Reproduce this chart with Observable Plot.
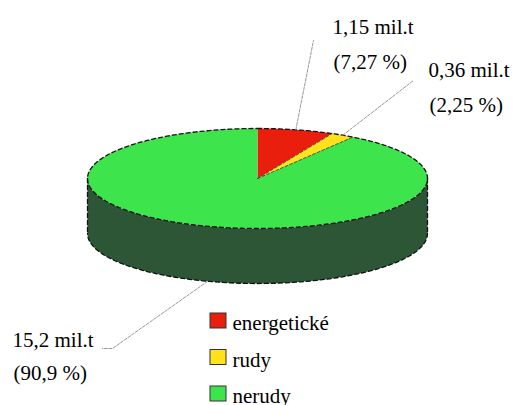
<!DOCTYPE html>
<html>
<head>
<meta charset="utf-8">
<script src="https://cdn.jsdelivr.net/npm/d3@7"></script>
<script src="https://cdn.jsdelivr.net/npm/@observablehq/plot@0.6"></script>
</head>
<body style="margin:0">
<script>
// ---- data ----
const categories = ["energetické", "rudy", "nerudy"];
const amounts = [1.15, 0.36, 15.2];          // mil. t
const percents = [7.27, 2.25, 90.9];         // %
const colors = ["#ea1e0c", "#ffe11c", "#3ee44c"];
const sideColor = "#2c5636";

// ---- layout ----
const W = 520, H = 405;
const cx = 257, cy = 178, rx = 170, ry = 50, depth = 55;

const total = d3.sum(percents);
let acc = 0;
const slices = categories.map((c, i) => {
  const a0 = acc / total * 2 * Math.PI;
  acc += percents[i];
  const a1 = acc / total * 2 * Math.PI;
  return {c, i, a0, a1, mid: (a0 + a1) / 2};
});
const px = a => cx + rx * Math.sin(a);
const py = (a, dz = 0) => cy - ry * Math.cos(a) + dz;

function arc(a0, a1, dz = 0, n = 120) {
  const pts = [];
  const steps = Math.max(2, Math.ceil(n * (a1 - a0) / (2 * Math.PI)));
  for (let k = 0; k <= steps; k++) {
    const a = a0 + (a1 - a0) * k / steps;
    pts.push({x: px(a), y: py(a, dz)});
  }
  return pts;
}

const sideTop = arc(Math.PI / 2, 3 * Math.PI / 2, 0);
const sideBot = arc(Math.PI / 2, 3 * Math.PI / 2, depth).reverse();
const sidePoly = [...sideTop, ...sideBot, sideTop[0]];

const marks = [];
marks.push(Plot.line(sidePoly, {x: "x", y: "y", fill: sideColor, stroke: "none"}));
slices.forEach(s => {
  const poly = [{x: cx, y: cy}, ...arc(s.a0, s.a1, 0), {x: cx, y: cy}];
  marks.push(Plot.line(poly, {x: "x", y: "y", fill: colors[s.i], stroke: "none"}));
});
const outlineStyle = {x: "x", y: "y", stroke: "#111", strokeWidth: 1.3, strokeDasharray: "4,3"};
marks.push(Plot.line(arc(0, 2 * Math.PI, 0, 240), outlineStyle));
marks.push(Plot.line(arc(Math.PI / 2, 3 * Math.PI / 2, depth), outlineStyle));
marks.push(Plot.line([{x: px(Math.PI / 2), y: py(Math.PI / 2)}, {x: px(Math.PI / 2), y: py(Math.PI / 2, depth)}], outlineStyle));
marks.push(Plot.line([{x: px(3 * Math.PI / 2), y: py(3 * Math.PI / 2)}, {x: px(3 * Math.PI / 2), y: py(3 * Math.PI / 2, depth)}], outlineStyle));
slices.slice(0, 2).forEach(s => {
  marks.push(Plot.line([{x: cx, y: cy}, {x: px(s.a1), y: py(s.a1)}], {x: "x", y: "y", stroke: "#333", strokeWidth: 0.8, strokeDasharray: "3,2"}));
});

const labelPos = [
  {end: [313, 40], text: [332, 32]},
  {end: [413, 80], text: [428, 75]},
  {end: [112, 348], end2: [102, 348], text: [12, 345]}
];
const fmt = v => String(v).replace(".", ",");
slices.forEach(s => {
  const lp = labelPos[s.i];
  const dz = s.i === 2 ? depth : 0;
  const pts = [{x: px(s.mid), y: py(s.mid, dz)}, {x: lp.end[0], y: lp.end[1]}];
  if (lp.end2) pts.push({x: lp.end2[0], y: lp.end2[1]});
  marks.push(Plot.line(pts, {x: "x", y: "y", stroke: "#999", strokeWidth: 1, strokeDasharray: "3,1.5"}));
});
const labelData = slices.map(s => ({
  x: labelPos[s.i].text[0], y: labelPos[s.i].text[1],
  t1: `${fmt(amounts[s.i])} mil.t`, t2: `(${fmt(percents[s.i])} %)`, off: s.i === 2 ? 33 : 35
}));
const textStyle = {textAnchor: "start", fontFamily: "Liberation Serif", fontSize: 21, dy: -5};
marks.push(Plot.text(labelData, {x: "x", y: "y", text: "t1", ...textStyle}));
marks.push(Plot.text(labelData, {x: d => d.x + 1, y: d => d.y + d.off, text: "t2", ...textStyle}));

const legend = categories.map((c, i) => ({c, i, color: colors[i]}));
marks.push(Plot.rect(legend, {x1: () => 210, x2: () => 226, y1: d => 313 + d.i * 36.5, y2: d => 328 + d.i * 36.5, fill: "color", stroke: "#333", strokeWidth: 1}));
marks.push(Plot.text(legend, {x: () => 232, y: d => 328 + d.i * 36.5, text: "c", ...textStyle}));

const chart = Plot.plot({
  width: W, height: H,
  margin: 0,
  x: {domain: [0, W], range: [0, W], axis: null},
  y: {domain: [0, H], range: [0, H], axis: null},
  color: {type: "identity"},
  marks
});
document.body.appendChild(chart);
</script>
</body>
</html>
